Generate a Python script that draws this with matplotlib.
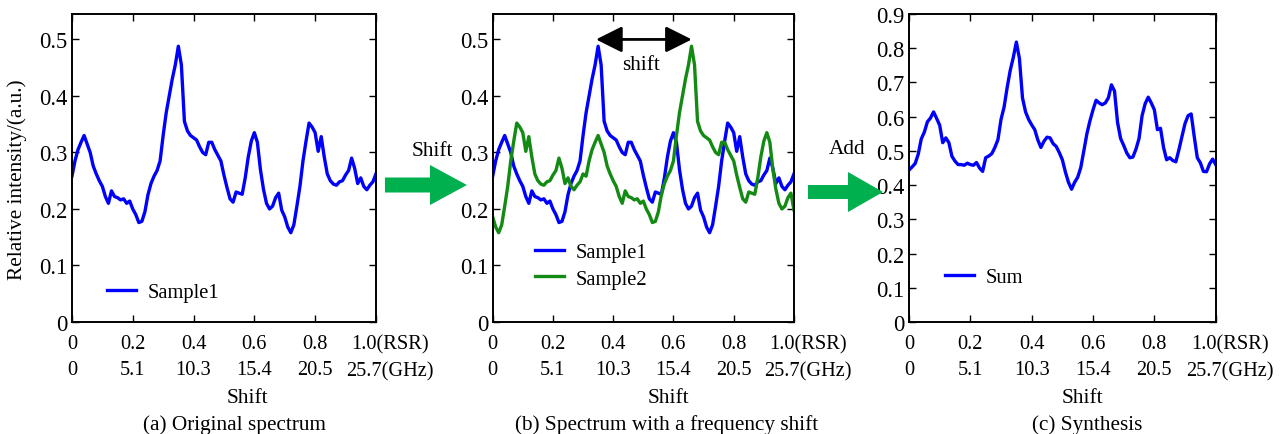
import numpy as np
import matplotlib
matplotlib.use("Agg")
import matplotlib.pyplot as plt
from matplotlib.patches import FancyArrow
from matplotlib.transforms import ScaledTranslation
from matplotlib.ticker import FuncFormatter

plt.rcParams["font.family"] = ["Liberation Serif", "DejaVu Serif"]
plt.rcParams["font.size"] = 15

# spectrum of sample 1, sampled every 0.01 RSR
sample1 = np.array([
    0.258, 0.285, 0.305, 0.318, 0.330, 0.315, 0.300, 0.276, 0.262, 0.250,
    0.240, 0.222, 0.210, 0.232, 0.222, 0.220, 0.216, 0.218, 0.210, 0.214,
    0.200, 0.190, 0.176, 0.178, 0.195, 0.225, 0.245, 0.258, 0.268, 0.285,
    0.330, 0.370, 0.400, 0.430, 0.455, 0.488, 0.455, 0.355, 0.338, 0.330,
    0.326, 0.322, 0.310, 0.300, 0.296, 0.318, 0.318, 0.305, 0.295, 0.285,
    0.260, 0.238, 0.218, 0.212, 0.230, 0.228, 0.226, 0.255, 0.292, 0.320,
    0.335, 0.318, 0.270, 0.235, 0.210, 0.200, 0.205, 0.220, 0.228, 0.198,
    0.186, 0.168, 0.158, 0.172, 0.205, 0.240, 0.285, 0.320, 0.352, 0.345,
    0.335, 0.302, 0.328, 0.292, 0.262, 0.250, 0.244, 0.242, 0.248, 0.250,
    0.260, 0.268, 0.290, 0.272, 0.245, 0.255, 0.240, 0.234, 0.242, 0.248,
    0.262,
])
shift_steps = 31  # frequency shift in samples (0.31 RSR)

rsr_ticks = [0, 0.2, 0.4, 0.6, 0.8, 1.0]
tick_labels = ["0\n0", "0.2\n5.1", "0.4\n10.3", "0.6\n15.4", "0.8\n20.5",
               "1.0(RSR)\n25.7(GHz)"]

x = np.linspace(0, 1, len(sample1))
sample2 = np.roll(sample1, shift_steps)
total = sample1 + sample2

fig = plt.figure(figsize=(12.87, 4.35), dpi=100)
ax_a = fig.add_axes([0.0559, 0.2575, 0.2362, 0.708])
ax_b = fig.add_axes([0.3828, 0.2575, 0.2341, 0.708])
ax_c = fig.add_axes([0.7063, 0.2575, 0.2383, 0.708])

fmt = FuncFormatter(lambda v, p: "0" if abs(v) < 1e-9 else f"{v:.1f}")


def style(ax, ymax, yticks, xlab_x, cap_x, caption):
    ax.set_xlim(0, 1)
    ax.set_ylim(0, ymax)
    ax.set_xticks(rsr_ticks)
    ax.set_xticklabels(tick_labels, linespacing=1.5, fontsize=14.7)
    ax.set_yticks(yticks)
    ax.yaxis.set_major_formatter(fmt)
    ax.tick_params(direction="in", top=True, right=True, length=5, width=1.0)
    ax.tick_params(axis="x", pad=9)
    ax.tick_params(axis="y", pad=3, labelsize=16.3)
    for s in ax.spines.values():
        s.set_linewidth(1.4)
    last = ax.get_xticklabels()[-1]
    last.set_transform(last.get_transform() +
                       ScaledTranslation(0.14, 0, fig.dpi_scale_trans))
    ax.set_xlabel("Shift", fontsize=15.4)
    ax.xaxis.set_label_coords(xlab_x, -0.246)
    ax.xaxis.label.set_va("center")
    ax.text(cap_x, -0.333, caption, transform=ax.transAxes,
            ha="center", va="center", fontsize=15.3)


yt_ab = [0, 0.1, 0.2, 0.3, 0.4, 0.5]
yt_c = [0, 0.1, 0.2, 0.3, 0.4, 0.5, 0.6, 0.7, 0.8, 0.9]
legend_kw = dict(frameon=False, borderpad=0, borderaxespad=0,
                 handlelength=1.4, handletextpad=0.6, fontsize=14.8)

# (a) original spectrum
ax_a.plot(x, sample1, color="#0000ff", lw=2.4, label="Sample1")
style(ax_a, 0.545, yt_ab, 0.576, 0.536, "(a) Original spectrum")
ax_a.set_ylabel("Relative intensity/(a.u.)", fontsize=15.3, va="center")
ax_a.yaxis.set_label_coords(-0.181, 0.464)
ax_a.legend(loc="center left", bbox_to_anchor=(0.115, 0.097), **legend_kw)

# (b) shifted copy overlaid
ax_b.plot(x, sample1, color="#0000ff", lw=2.4, label="Sample1")
ax_b.plot(x, sample2, color="#138a13", lw=2.4, label="Sample2")
style(ax_b, 0.545, yt_ab, 0.582, 0.578, "(b) Spectrum with a frequency shift")
ax_b.legend(loc="center left", bbox_to_anchor=(0.14, 0.183),
            labelspacing=0.35, **legend_kw)
ax_b.annotate("", xy=(0.661, 0.5), xytext=(0.343, 0.5),
              arrowprops=dict(arrowstyle="<|-|>,head_length=0.8,head_width=0.4",
                              mutation_scale=20, lw=2, color="black",
                              shrinkA=0, shrinkB=0))
ax_b.text(0.493, 0.456, "shift", ha="center", va="center", fontsize=15.3)

# (c) sum of both
ax_c.plot(x, total, color="#0000ff", lw=2.4, label="Sum")
style(ax_c, 0.9, yt_c, 0.567, 0.58, "(c) Synthesis")
ax_c.legend(loc="center left", bbox_to_anchor=(0.117, 0.146), **legend_kw)

# green arrows between the panels
green = "#00b04f"
fig.add_artist(FancyArrow(0.2991, 0.5724, 0.0637, 0, width=0.0345,
                          head_width=0.092, head_length=0.0287,
                          length_includes_head=True, color=green, lw=0,
                          transform=fig.transFigure))
fig.add_artist(FancyArrow(0.6278, 0.5563, 0.0583, 0, width=0.0322,
                          head_width=0.092, head_length=0.0272,
                          length_includes_head=True, color=green, lw=0,
                          transform=fig.transFigure))
fig.text(0.3357, 0.6506, "Shift", ha="center", va="center", fontsize=15.3)
fig.text(0.658, 0.657, "Add", ha="center", va="center", fontsize=15.3)

fig.savefig("out.png", dpi=100)
